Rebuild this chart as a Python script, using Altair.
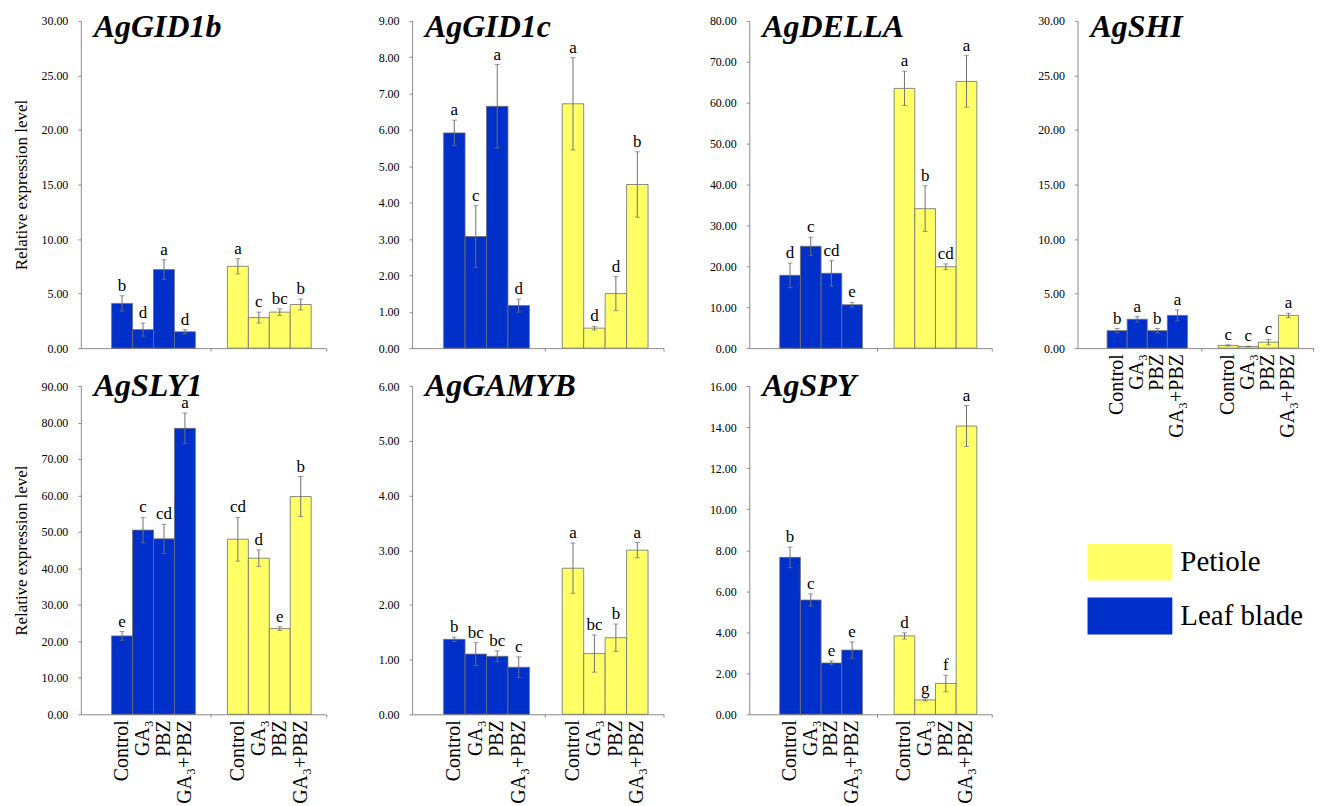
import altair as alt
import pandas as pd

GENES = ["AgGID1b", "AgGID1c", "AgDELLA", "AgSHI", "AgSLY1", "AgGAMYB", "AgSPY"]
TREATMENTS = ["Control", "GA₃", "PBZ", "GA₃+PBZ"]
TISSUES = ["Leaf blade", "Petiole"]

LEAF_MEAN = {
    "AgGID1b": [4.1, 1.7, 7.2, 1.5],
    "AgGID1c": [5.92, 3.07, 6.65, 1.17],
    "AgDELLA": [17.8, 24.9, 18.3, 10.6],
    "AgSHI": [1.6, 2.65, 1.6, 3.0],
    "AgSLY1": [21.5, 50.5, 48.1, 78.4],
    "AgGAMYB": [1.37, 1.1, 1.06, 0.86],
    "AgSPY": [7.65, 5.57, 2.5, 3.13],
}
LEAF_SE = {
    "AgGID1b": [0.7, 0.6, 0.9, 0.2],
    "AgGID1c": [0.35, 0.85, 1.15, 0.18],
    "AgDELLA": [3.0, 2.2, 3.1, 0.6],
    "AgSHI": [0.2, 0.25, 0.2, 0.5],
    "AgSLY1": [1.2, 3.5, 4.0, 4.2],
    "AgGAMYB": [0.04, 0.21, 0.1, 0.19],
    "AgSPY": [0.5, 0.3, 0.1, 0.4],
}
LEAF_LETTER = {
    "AgGID1b": ["b", "d", "a", "d"],
    "AgGID1c": ["a", "c", "a", "d"],
    "AgDELLA": ["d", "c", "cd", "e"],
    "AgSHI": ["b", "a", "b", "a"],
    "AgSLY1": ["e", "c", "cd", "a"],
    "AgGAMYB": ["b", "bc", "bc", "c"],
    "AgSPY": ["b", "c", "e", "e"],
}
PETIOLE_MEAN = {
    "AgGID1b": [7.5, 2.8, 3.3, 4.0],
    "AgGID1c": [6.72, 0.55, 1.5, 4.5],
    "AgDELLA": [63.5, 34.1, 19.9, 65.2],
    "AgSHI": [0.25, 0.15, 0.55, 3.0],
    "AgSLY1": [48.0, 42.8, 23.5, 59.7],
    "AgGAMYB": [2.67, 1.11, 1.4, 3.0],
    "AgSPY": [3.82, 0.7, 1.5, 14.05],
}
PETIOLE_SE = {
    "AgGID1b": [0.7, 0.5, 0.3, 0.5],
    "AgGID1c": [1.27, 0.05, 0.47, 0.9],
    "AgDELLA": [4.2, 5.6, 0.7, 6.3],
    "AgSHI": [0.05, 0.03, 0.25, 0.2],
    "AgSLY1": [6.0, 2.3, 0.5, 5.5],
    "AgGAMYB": [0.46, 0.34, 0.25, 0.14],
    "AgSPY": [0.15, 0.05, 0.4, 1.0],
}
PETIOLE_LETTER = {
    "AgGID1b": ["a", "c", "bc", "b"],
    "AgGID1c": ["a", "d", "d", "b"],
    "AgDELLA": ["a", "b", "cd", "a"],
    "AgSHI": ["c", "c", "c", "a"],
    "AgSLY1": ["cd", "d", "e", "b"],
    "AgGAMYB": ["a", "bc", "b", "a"],
    "AgSPY": ["d", "g", "f", "a"],
}
Y_MAX = {"AgGID1b": 30, "AgGID1c": 9, "AgDELLA": 80, "AgSHI": 30,
         "AgSLY1": 90, "AgGAMYB": 6, "AgSPY": 16}
Y_STEP = {"AgGID1b": 5, "AgGID1c": 1, "AgDELLA": 10, "AgSHI": 5,
          "AgSLY1": 10, "AgGAMYB": 1, "AgSPY": 2}

FONT = "'Liberation Serif', 'Times New Roman', 'DejaVu Serif', serif"
BLUE = "#0030C9"
YELLOW = "#FFFF66"
GREY = "#8c8c8c"
GROUP_START = {"Leaf blade": 1.47, "Petiole": 7.0}
X_END = 11.72
MID_TICK = 6.18

color_enc = alt.Color("tissue:N", scale=alt.Scale(domain=TISSUES, range=[BLUE, YELLOW]), legend=None)


def gene_frame(gene):
    rows = []
    for tissue, means, ses, lets in [("Leaf blade", LEAF_MEAN, LEAF_SE, LEAF_LETTER),
                                     ("Petiole", PETIOLE_MEAN, PETIOLE_SE, PETIOLE_LETTER)]:
        for i, t in enumerate(TREATMENTS):
            m = means[gene][i]
            s = ses[gene][i]
            x0 = GROUP_START[tissue] + i
            rows.append(dict(tissue=tissue, treatment=t, mean=m, base=0.0, lo=max(m - s, 0), hi=m + s,
                             letter=lets[gene][i], x0=x0, x1=x0 + 1, xc=x0 + 0.5))
    return pd.DataFrame(rows)


def panel(gene, width, height, show_ytitle, show_xlabels, title_y):
    df = gene_frame(gene)
    xs = alt.Scale(domain=[0, X_END], nice=False, zero=False)
    ys = alt.Scale(domain=[0, Y_MAX[gene]], nice=False)
    xaxis = alt.Axis(values=[MID_TICK, X_END], labels=False, title=None, tickSize=3)
    yaxis = alt.Axis(values=list(range(0, Y_MAX[gene] + 1, Y_STEP[gene])), format=".2f",
                     title="Relative expression level" if show_ytitle else None)

    def X(f):
        return alt.X(f, scale=xs, axis=xaxis)

    def Y(f):
        return alt.Y(f, scale=ys, axis=yaxis)

    base = alt.Chart(df)
    bars = base.mark_rect(stroke="#6e6e6e", strokeWidth=0.8).encode(
        x=X("x0:Q"), x2="x1:Q", y=Y("mean:Q"), y2="base:Q", color=color_enc)
    err = base.mark_rule(color="#707070", strokeWidth=1).encode(x=X("xc:Q"), y=Y("lo:Q"), y2="hi:Q")
    cap_hi = base.mark_tick(orient="horizontal", size=5, thickness=1, color="#707070").encode(
        x=X("xc:Q"), y=Y("hi:Q"))
    cap_lo = base.mark_tick(orient="horizontal", size=5, thickness=1, color="#707070").encode(
        x=X("xc:Q"), y=Y("lo:Q"))
    letters = base.mark_text(font=FONT, fontSize=17, baseline="bottom", dy=-1, color="black").encode(
        x=X("xc:Q"), y=Y("hi:Q"), text="letter:N")
    title = alt.Chart(pd.DataFrame({"name": [gene]})).mark_text(
        font=FONT, fontSize=32, fontWeight="bold", fontStyle="italic", align="left",
        baseline="alphabetic", color="black").encode(
        text="name:N", x=alt.value(13), y=alt.value(title_y))
    layers = [bars, err, cap_hi, cap_lo, letters, title]
    if show_xlabels:
        labels = base.mark_text(font=FONT, fontSize=20, angle=270, align="right",
                                baseline="middle", color="black").encode(
            x=X("xc:Q"), y=alt.value(height + 6), text="treatment:N")
        layers.append(labels)
    return alt.layer(*layers).properties(width=width, height=height)


def legend_panel(width, height):
    leg_df = pd.DataFrame({"tissue": ["Petiole", "Leaf blade"]})
    leg_y = alt.Y("tissue:N", sort=["Petiole", "Leaf blade"], axis=None,
                  scale=alt.Scale(range=[158, 249], paddingInner=0.315, paddingOuter=0, round=False))
    rect = alt.Chart(leg_df).mark_rect().encode(
        y=leg_y, x=alt.value(10), x2=alt.value(95), color=color_enc)
    txt = alt.Chart(leg_df).mark_text(font=FONT, fontSize=29, align="left", baseline="middle",
                                      color="black").encode(
        y=leg_y, x=alt.value(103), text="tissue:N")
    return alt.layer(rect, txt).properties(width=width, height=height)


H1 = 328
H2 = 329
W = [246, 252, 243, 236]
p1 = panel("AgGID1b", W[0], H1, True, False, 16)
p2 = panel("AgGID1c", W[1], H1, False, False, 16)
p3 = panel("AgDELLA", W[2], H1, False, False, 16)
p4 = panel("AgSHI", W[3], H1, False, True, 16)
p5 = panel("AgSLY1", W[0], H2, True, True, 10)
p6 = panel("AgGAMYB", W[1], H2, False, True, 10)
p7 = panel("AgSPY", W[2], H2, False, True, 10)
lg = legend_panel(W[3], H2)

chart = alt.concat(p1, p2, p3, p4, p5, p6, p7, lg, columns=4, bounds="flush",
                   spacing={"row": 38, "column": 86}).properties(
    padding={"left": 5, "top": 2, "right": 0, "bottom": 0},
    background="white",
).configure_view(stroke=None).configure_axis(
    grid=False, labelFont=FONT, labelFontSize=12, labelColor="black",
    titleFont=FONT, titleFontSize=17, titleFontWeight="normal", titleColor="black",
    domainColor=GREY, tickColor=GREY, tickSize=3, labelPadding=10, titlePadding=10,
)

chart.save("out.html", embed_options={"renderer": "svg", "actions": False})
